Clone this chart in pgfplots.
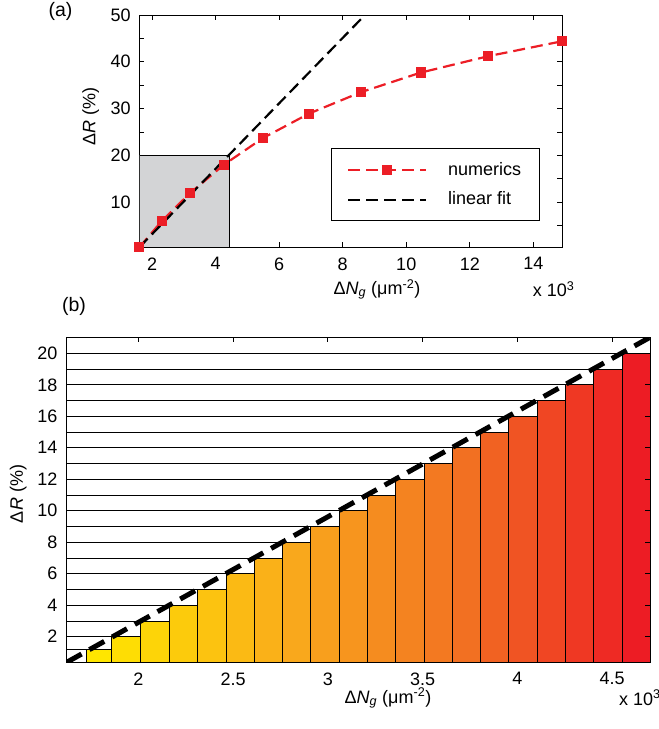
\documentclass[border=0pt]{standalone}
\usepackage{fontspec}
\setmainfont{Liberation Sans}
\usepackage{pgfplots}
\pgfplotsset{compat=1.18}

\newcommand{\lbl}{\fontsize{18}{21.6}\selectfont}
\newcommand{\pnl}{\fontsize{19.5}{23}\selectfont}

\definecolor{numred}{RGB}{236,30,38}
\definecolor{boxgray}{RGB}{211,212,214}
% bar colours, yellow to red
\definecolor{b1}{RGB}{255,230,0}
\definecolor{b2}{RGB}{254,221,4}
\definecolor{b3}{RGB}{253,212,8}
\definecolor{b4}{RGB}{252,203,12}
\definecolor{b5}{RGB}{252,195,16}
\definecolor{b6}{RGB}{251,186,20}
\definecolor{b7}{RGB}{250,177,24}
\definecolor{b8}{RGB}{249,168,28}
\definecolor{b9}{RGB}{248,159,29}
\definecolor{b10}{RGB}{247,149,30}
\definecolor{b11}{RGB}{245,140,31}
\definecolor{b12}{RGB}{244,131,32}
\definecolor{b13}{RGB}{243,121,33}
\definecolor{b14}{RGB}{242,112,34}
\definecolor{b15}{RGB}{241,98,34}
\definecolor{b16}{RGB}{240,84,35}
\definecolor{b17}{RGB}{240,70,35}
\definecolor{b18}{RGB}{239,56,35}
\definecolor{b19}{RGB}{238,42,36}
\definecolor{b20}{RGB}{237,28,36}

\begin{document}
\lbl
\begin{tikzpicture}[font=\lbl]
\path[use as bounding box] (0,0) rectangle (659pt,-729pt);

% ---------------- (a) ----------------
\begin{axis}[
  at={(139.3pt,-15pt)}, anchor=north west,
  scale only axis, width=423pt, height=232.3pt,
  xmin=1.6, xmax=14.91, ymin=0.36, ymax=50,
  xtick={2,4,...,14},
  ytick={5,10,...,50},
  yticklabels={,10,,20,,30,,40,,50},
  tick align=inside, tick pos=both,
  major tick length=5pt,
  axis line style={line width=1pt},
  every tick/.style={black, line width=0.8pt},
  /pgf/number format/assume math mode=true,
  tick label style={font=\lbl},
  xticklabel style={yshift=-4pt},
  yticklabel style={xshift=-2.5pt},
  legend style={at={(0.4525,0.4275)}, anchor=north west,
    draw=black, line width=1pt, fill=white, font=\lbl,
    inner xsep=16pt, inner ysep=11.5pt, row sep=10pt,
    column sep=19pt},
  legend cell align=left,
  legend image code/.code={%
    \draw[mark repeat=2,mark phase=2,#1]
      plot coordinates {(0pt,0pt) (38.8pt,0pt) (77.6pt,0pt)};},
]
% region shown enlarged in (b)
\addplot[fill=boxgray, draw=black, line width=1pt, forget plot]
  coordinates {(1.6,0.36) (1.6,20) (4.45,20) (4.45,0.36)} -- cycle;

\addplot[numred, line width=2.2pt, dash pattern=on 12pt off 6pt,
  mark=square*, mark size=4pt, mark options={solid, fill=numred}]
  coordinates {
    (1.60,0.36) (2.32,6.06) (3.19,11.9) (4.26,18.0) (5.49,23.7)
    (6.93,28.9) (8.57,33.5) (10.46,37.7) (12.58,41.2) (14.91,44.4)
  };
\addlegendentry{numerics}

\addplot[black, line width=2.2pt, dash pattern=on 12pt off 6pt]
  coordinates {(1.60,0.36) (8.80,50.7)};
\addlegendentry{linear fit}
\end{axis}

% ---------------- (b) ----------------
\begin{axis}[
  at={(66.7pt,-337.3pt)}, anchor=north west,
  scale only axis, width=583.3pt, height=325pt,
  xmin=1.622, xmax=4.70, ymin=0.37, ymax=21.02,
  xtick={2,2.5,3,3.5,4,4.5},
  xticklabels={2,2.5,3,3.5,4,4.5},
  ytick={2,4,...,20},
  tick align=inside,
  xtick pos=right, xticklabel pos=left,
  ytick pos=both,
  major tick length=5pt,
  axis on top,
  axis line style={line width=1pt},
  every tick/.style={black, line width=0.8pt},
  /pgf/number format/assume math mode=true,
  tick label style={font=\lbl},
  xticklabel style={yshift=-4pt},
  yticklabel style={xshift=-3pt},
]
% level lines
\addplot[xcomb, black, line width=0.8pt, mark=none]
  coordinates {
    (5,1.2) (5,2) (5,3) (5,4) (5,5) (5,6) (5,7) (5,8) (5,9) (5,10)
    (5,11) (5,12) (5,13) (5,14) (5,15) (5,16) (5,17) (5,18) (5,19) (5,20)
  };

% steps
\addplot[ybar interval, fill=b1,  draw=black, line width=0.8pt] coordinates {(1.7275,1.2) (1.8593,1.2)};
\addplot[ybar interval, fill=b2,  draw=black, line width=0.8pt] coordinates {(1.8593,2) (2.0086,2)};
\addplot[ybar interval, fill=b3,  draw=black, line width=0.8pt] coordinates {(2.0086,3) (2.1616,3)};
\addplot[ybar interval, fill=b4,  draw=black, line width=0.8pt] coordinates {(2.1616,4) (2.3108,4)};
\addplot[ybar interval, fill=b5,  draw=black, line width=0.8pt] coordinates {(2.3108,5) (2.4622,5)};
\addplot[ybar interval, fill=b6,  draw=black, line width=0.8pt] coordinates {(2.4622,6) (2.6114,6)};
\addplot[ybar interval, fill=b7,  draw=black, line width=0.8pt] coordinates {(2.6114,7) (2.7612,7)};
\addplot[ybar interval, fill=b8,  draw=black, line width=0.8pt] coordinates {(2.7612,8) (2.9105,8)};
\addplot[ybar interval, fill=b9,  draw=black, line width=0.8pt] coordinates {(2.9105,9) (3.0598,9)};
\addplot[ybar interval, fill=b10, draw=black, line width=0.8pt] coordinates {(3.0598,10) (3.2074,10)};
\addplot[ybar interval, fill=b11, draw=black, line width=0.8pt] coordinates {(3.2074,11) (3.3588,11)};
\addplot[ybar interval, fill=b12, draw=black, line width=0.8pt] coordinates {(3.3588,12) (3.5081,12)};
\addplot[ybar interval, fill=b13, draw=black, line width=0.8pt] coordinates {(3.5081,13) (3.6557,13)};
\addplot[ybar interval, fill=b14, draw=black, line width=0.8pt] coordinates {(3.6557,14) (3.8055,14)};
\addplot[ybar interval, fill=b15, draw=black, line width=0.8pt] coordinates {(3.8055,15) (3.9548,15)};
\addplot[ybar interval, fill=b16, draw=black, line width=0.8pt] coordinates {(3.9548,16) (4.1040,16)};
\addplot[ybar interval, fill=b17, draw=black, line width=0.8pt] coordinates {(4.1040,17) (4.2538,17)};
\addplot[ybar interval, fill=b18, draw=black, line width=0.8pt] coordinates {(4.2538,18) (4.4031,18)};
\addplot[ybar interval, fill=b19, draw=black, line width=0.8pt] coordinates {(4.4031,19) (4.5524,19)};
\addplot[ybar interval, fill=b20, draw=black, line width=0.8pt] coordinates {(4.5524,20) (4.7000,20)};

% linear relation
\addplot[black, line width=5pt, dash pattern=on 17pt off 9pt]
  coordinates {(1.622,0.37) (4.70,21.02)};
\end{axis}

% panel letters, axis titles and multipliers
\node[font=\pnl] at (60.5pt,-11pt) {(a)};
\node[font=\pnl] at (74pt,-306pt) {(b)};
\node[rotate=90] at (90.7pt,-116.7pt) {Δ\textit{R} (\%)};
\node[rotate=90] at (18.3pt,-494pt) {Δ\textit{R} (\%)};
\node[anchor=base] at (377pt,-294.3pt) {Δ\textit{N}\textsubscript{\textit{g}} (μm\textsuperscript{-2})};
\node[anchor=base] at (388pt,-703pt) {Δ\textit{N}\textsubscript{\textit{g}} (μm\textsuperscript{-2})};
\node[anchor=base west, inner sep=0pt] at (532.7pt,-296.7pt) {x 10\textsuperscript{3}};
\node[anchor=base west, inner sep=0pt] at (619pt,-705pt) {x 10\textsuperscript{3}};
\end{tikzpicture}
\end{document}
